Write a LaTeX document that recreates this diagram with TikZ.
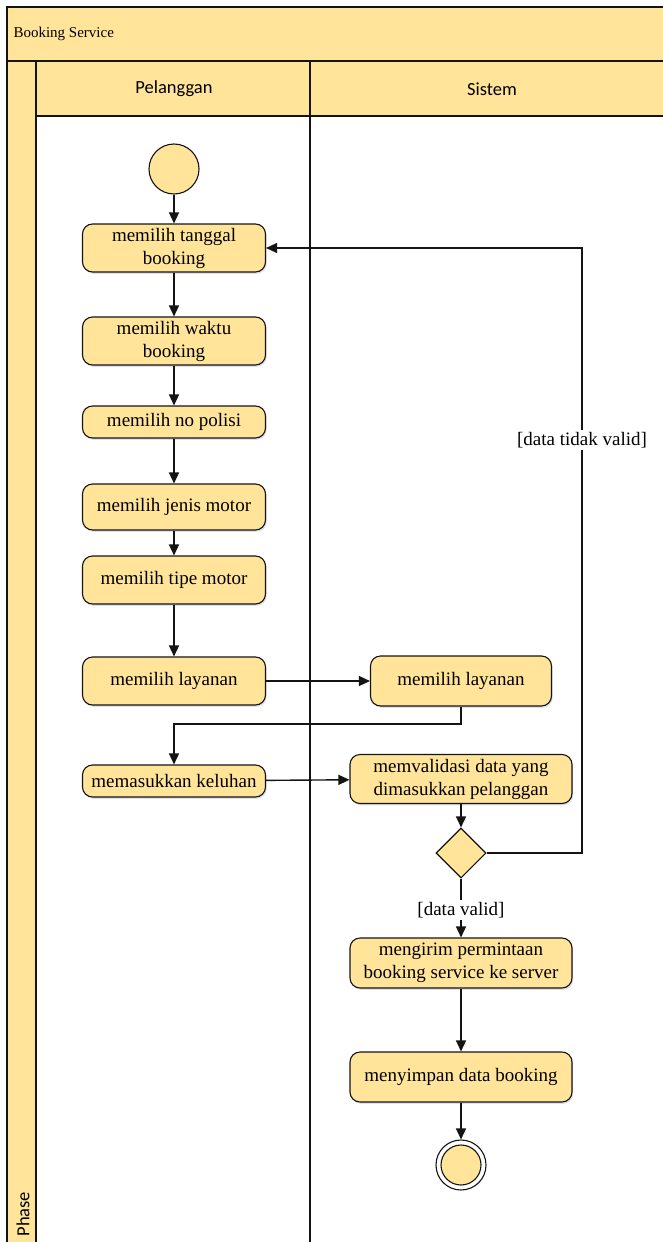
\documentclass[tikz,border=0pt]{standalone}
\usepackage{fontspec}
\setmainfont{Liberation Serif}
\newfontfamily\lanefont{Carlito}
\usetikzlibrary{arrows.meta,shapes.geometric,shadows}
\definecolor{swim}{RGB}{255,228,153}
\definecolor{ink}{RGB}{20,20,20}
\tikzset{
  actbox/.style={draw=ink, line width=1.1pt, rounded corners=10pt, fill=swim,
    align=center, inner sep=2pt, font=\fontsize{19}{23}\selectfont,
    drop shadow={opacity=0.18, shadow xshift=1.2pt, shadow yshift=-1.8pt, fill=blue!40!gray}},
  pbox/.style={actbox, minimum width=183pt},
  sbox/.style={actbox, minimum width=222pt},
  flow/.style={draw=ink, line width=1.4pt, -{Triangle[length=11pt,width=10pt]}},
  guard/.style={fill=white, inner sep=2pt, font=\fontsize{19}{23}\selectfont},
  lanetitle/.style={font=\lanefont\fontsize{18.5}{22}\selectfont},
  pool/.style={draw=ink, line width=1.1pt}
}
\begin{document}
\begin{tikzpicture}[x=1pt,y=-1pt]
\useasboundingbox (0,0) rectangle (662,1242);
\fill[white] (0,0) rectangle (662,1242);

% pool frame, title band, lane headers and phase column
\fill[swim] (7,7) rectangle (680,61);
\fill[swim] (7,61) rectangle (36,1260);
\fill[swim] (36,61) rectangle (680,116);
\draw[pool] (680,7) -- (7,7) -- (7,1260);
\draw[pool] (7,61) -- (680,61);
\draw[pool] (36,61) -- (36,1260);
\draw[pool] (36,116) -- (680,116);
\draw[pool] (310,61) -- (310,1260);
\node[anchor=west, font=\fontsize{15}{18}\selectfont] (title) at (10,34) {Booking Service};
\node[lanetitle] (lane1) at (174,89) {Pelanggan};
\node[lanetitle] (lane2) at (492,89) {Sistem};
\node[lanetitle, rotate=90, anchor=west] (phase) at (23,1240) {Phase};

% Pelanggan lane
\node[draw=ink, line width=1.1pt, fill=swim, circle, minimum size=50pt, inner sep=0pt] (start) at (174,169) {};
\node[pbox, minimum height=48pt] (n1) at (174,248) {memilih tanggal\\booking};
\node[pbox, minimum height=48pt] (n2) at (174,341) {memilih waktu\\booking};
\node[pbox, minimum height=32pt] (n3) at (174,422) {memilih no polisi};
\node[pbox, minimum height=46pt] (n4) at (174,507) {memilih jenis motor};
\node[pbox, minimum height=48pt] (n5) at (174,580) {memilih tipe motor};
\node[pbox, minimum height=48pt] (n6) at (174,681) {memilih layanan};
\node[pbox, minimum height=32pt] (n7) at (174,781) {memasukkan keluhan};

% Sistem lane
\node[actbox, minimum width=181pt, minimum height=50pt] (s1) at (461,681) {memilih layanan};
\node[sbox, minimum height=49pt] (s2) at (461,779) {memvalidasi data yang\\dimasukkan pelanggan};
\node[draw=ink, line width=1.1pt, fill=swim, diamond, aspect=1, minimum width=50pt, minimum height=50pt, inner sep=0pt] (dec) at (461,853) {};
\node[sbox, minimum height=50pt] (s3) at (461,963) {mengirim permintaan\\booking service ke server};
\node[sbox, minimum height=50pt] (s4) at (461,1077) {menyimpan data booking};
\node[draw=ink, line width=1.1pt, fill=white, circle, minimum size=50pt, inner sep=0pt] (finish) at (461,1165) {};
\node[draw=ink, line width=1.1pt, fill=swim, circle, minimum size=40pt, inner sep=0pt] (finishdot) at (461,1165) {};

% helper points for the bent connectors
\coordinate (j1) at (461,724);
\coordinate (r1) at (582,853);
\coordinate (r2) at (582,248);

% control flow
\draw[flow] (start) -- (n1);
\draw[flow] (n1) -- (n2);
\draw[flow] (n2) -- (n3);
\draw[flow] (n3) -- (n4);
\draw[flow] (n4) -- (n5);
\draw[flow] (n5) -- (n6);
\draw[flow] (n6) -- (s1);
\draw[flow] (s1.south) -- (j1) -| (n7.north);
\draw[flow] (n7) -- (s2);
\draw[flow] (s2) -- (dec);
\draw[flow] (dec.east) -- (r1) -- (r2) -- (n1.east);
\draw[flow] (dec.south) -- (s3);
\draw[flow] (s3) -- (s4);
\draw[flow] (s4) -- (finish);

% guards
\node[guard] (g1) at (582,440) {[data tidak valid]};
\node[guard] (g2) at (461,910) {[data valid]};
\end{tikzpicture}
\end{document}
